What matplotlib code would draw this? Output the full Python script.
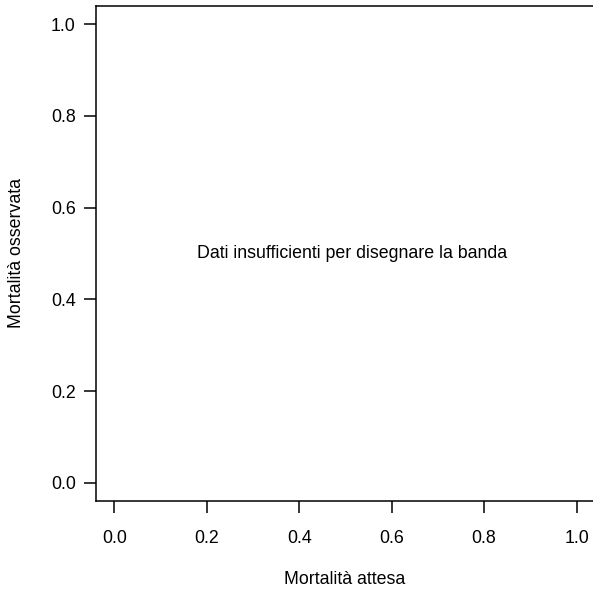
import numpy as np
import matplotlib
matplotlib.use('Agg')
import matplotlib.pyplot as plt

## Data:
x_ticks = [0.0, 0.2, 0.4, 0.6, 0.8, 1.0]
y_ticks = [0.0, 0.2, 0.4, 0.6, 0.8, 1.0]
tick_labels = ['0.0', '0.2', '0.4', '0.6', '0.8', '1.0']
message = 'Dati insufficienti per disegnare la banda'
x_label = 'Mortalità attesa'
y_label = 'Mortalità osservata'

plt.rcParams['font.family'] = ['Liberation Sans', 'DejaVu Sans']

W, H = 593, 599
fig = plt.figure(figsize=(W / 100, H / 100), dpi=100)
# plot region runs slightly off the right edge, like the original
left, right, bottom, top = 96, 595, 501, 6
ax = fig.add_axes([left / W, 1 - bottom / H, (right - left) / W, (bottom - top) / H])

ax.set_xlim(-0.04, 1.04)
ax.set_ylim(-0.04, 1.04)
ax.set_xticks(x_ticks)
ax.set_xticklabels(tick_labels)
ax.set_yticks(y_ticks)
ax.set_yticklabels(tick_labels)

for s in ax.spines.values():
    s.set_linewidth(1.1)
ax.tick_params(direction='out', length=8.6, width=1.1, labelsize=12.8, colors='black')
ax.tick_params(axis='x', pad=12)
ax.tick_params(axis='y', pad=6)

ax.text(0.515, 0.5, message, ha='center', va='center', fontsize=12.8)

fig.text(345 / W, 1 - 580 / H, x_label, ha='center', va='center', fontsize=12.8)
fig.text(17 / W, 1 - 253 / H, y_label, ha='center', va='center', rotation=90, fontsize=12.8)

fig.savefig('out.png', dpi=100)
